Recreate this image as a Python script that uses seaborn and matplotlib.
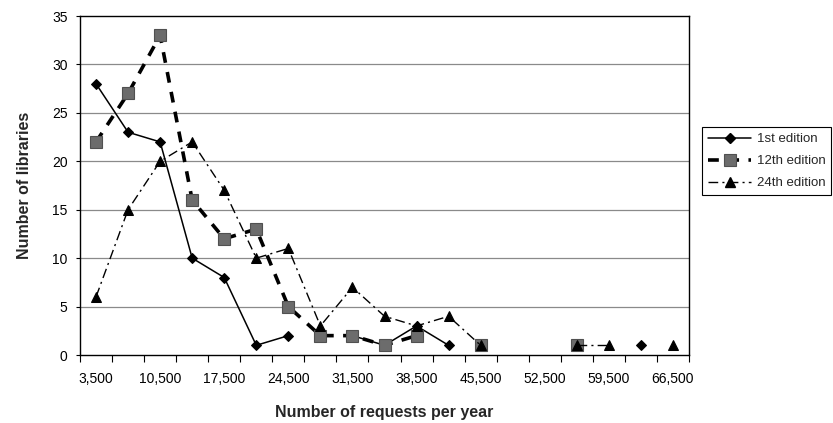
import numpy as np
import pandas as pd
import matplotlib
matplotlib.use("Agg")
import matplotlib.pyplot as plt
from matplotlib.lines import Line2D
import seaborn as sns

# Request-volume classes (3,500 steps) and library counts per edition
requests = [3500 * (i + 1) for i in range(19)]
first_ed = [28, 23, 22, 10, 8, 1, 2, np.nan, 2, 1, 3, 1, np.nan, np.nan, np.nan, np.nan, np.nan, 1, np.nan]
twelfth_ed = [22, 27, 33, 16, 12, 13, 5, 2, 2, 1, 2, np.nan, 1, np.nan, np.nan, 1, np.nan, np.nan, np.nan]
twentyfourth_ed = [6, 15, 20, 22, 17, 10, 11, 3, 7, 4, 3, 4, 1, np.nan, np.nan, 1, 1, np.nan, 1]
series_names = ["1st edition", "12th edition", "24th edition"]
tick_labels = [f"{v:,}" for v in requests]


def runs_frame(values):
    """Split a series into contiguous runs so that missing classes leave gaps."""
    rows, run, prev = [], 0, False
    for i, v in enumerate(values):
        if np.isnan(v):
            if prev:
                run += 1
            prev = False
            continue
        rows.append({"pos": i, "count": v, "run": run})
        prev = True
    return pd.DataFrame(rows)


sns.set_theme(style="white")
plt.rcParams["font.family"] = ["Liberation Sans", "DejaVu Sans"]

fig = plt.figure(figsize=(8.33, 4.23), dpi=100)
ax = fig.add_axes([80 / 833, 68 / 423, 609 / 833, 339 / 423])

styles = [
    dict(color="black", lw=1.1, linestyle="-", marker="D", markersize=5,
         markerfacecolor="black", markeredgecolor="black"),
    dict(color="black", lw=2.6, linestyle=(0, (3.0, 2.6)), marker="s", markersize=8.5,
         markerfacecolor="#6c6c6c", markeredgecolor="#505050", markeredgewidth=0.8),
    dict(color="black", lw=1.0, linestyle=(0, (7, 3, 1.5, 3)), marker="^", markersize=7,
         markerfacecolor="black", markeredgecolor="black"),
]

for vals, st in zip([first_ed, twelfth_ed, twentyfourth_ed], styles):
    df = runs_frame(vals)
    sns.lineplot(data=df, x="pos", y="count", units="run", estimator=None,
                 ax=ax, legend=False, **st)

# Axes limits, grid and frame
ax.set_xlim(-0.5, 18.5)
ax.set_ylim(0, 35)
ax.set_yticks(range(0, 36, 5))
for yv in range(5, 35, 5):
    ax.axhline(yv, color="#8a8a8a", lw=0.9, zorder=0)
for sp in ax.spines.values():
    sp.set_visible(True)
    sp.set_color("black")
    sp.set_linewidth(1.0)

ax.set_xticks(range(0, 19, 2))
ax.set_xticklabels([tick_labels[i] for i in range(0, 19, 2)])
ax.set_xticks(np.arange(-0.5, 19, 1), minor=True)
ax.tick_params(axis="x", which="major", length=0, pad=12, labelsize=10, colors="black")
ax.tick_params(axis="x", which="minor", length=5, width=0.8, color="black", direction="out", bottom=True)
ax.tick_params(axis="y", which="major", length=3, width=0.8, color="black", left=True,
               labelsize=10, pad=6, labelcolor="black")

ax.set_xlabel("Number of requests per year", fontsize=11.5, fontweight="bold", labelpad=14)
ax.set_ylabel("Number of libraries", fontsize=11.5, fontweight="bold", labelpad=14)

# Legend with proxy handles matching each series' style
handles = [Line2D([], [], **st) for st in styles]
leg = fig.legend(handles, series_names, loc="upper left",
                 bbox_to_anchor=(702 / 833, 1 - 127 / 423),
                 frameon=True, fancybox=False, framealpha=1, edgecolor="black",
                 fontsize=9.5, handlelength=3.3, handletextpad=0.4,
                 borderpad=0.45, labelspacing=0.75, borderaxespad=0)
leg.get_frame().set_linewidth(0.8)

fig.savefig("out.png", dpi=100)
